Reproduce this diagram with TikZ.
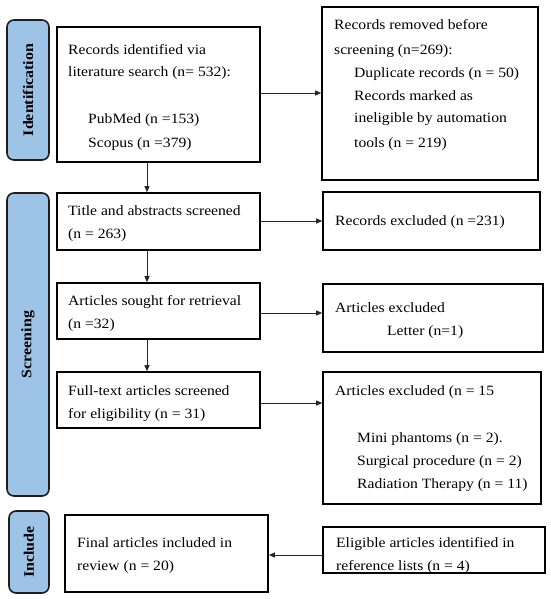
\documentclass[tikz,border=0pt]{standalone}
\usepackage{fontspec}
\setmainfont[FakeStretch=1.1]{Liberation Serif}
\usetikzlibrary{arrows.meta}
\definecolor{phasefill}{HTML}{9DC3E6}
\definecolor{phasedraw}{HTML}{1E1E1E}
\tikzset{
  box/.style={draw=black, line width=1.6pt, inner sep=0pt, fill=white},
  phase/.style={draw=phasedraw, fill=phasefill, line width=1.6pt, rounded corners=7pt,
    inner sep=0pt, rotate=90, font=\fontsize{14.5}{16}\selectfont\bfseries},
  txt/.style={anchor=base west, inner sep=0pt, font=\fontsize{14.2}{16}\selectfont},
  arr/.style={-{Triangle[length=6pt,width=5pt]}, line width=0.9pt, draw=black!85},
}
\begin{document}
\begin{tikzpicture}[x=1pt,y=-1pt]
\useasboundingbox (0,0) rectangle (550,599);
% phase labels
\node[phase, minimum width=140pt, minimum height=42pt] (P1) at (28,90) {Identification};
\node[phase, minimum width=303pt, minimum height=42pt] (P2) at (28,344.5) {Screening};
\node[phase, minimum width=82pt, minimum height=40pt] (P3) at (29,552) {Include};
% boxes
\node[box, minimum width=203pt, minimum height=135pt] (A) at (158.5,94.5) {};
\node[box, minimum width=216pt, minimum height=173pt] (R) at (430,93.5) {};
\node[box, minimum width=203pt, minimum height=57pt] (B) at (158.5,221.5) {};
\node[box, minimum width=203pt, minimum height=56pt] (C) at (158.5,311) {};
\node[box, minimum width=203pt, minimum height=56pt] (D) at (158.5,400) {};
\node[box, minimum width=217pt, minimum height=58pt] (E1) at (431.5,221) {};
\node[box, minimum width=220pt, minimum height=68pt] (E2) at (433,318) {};
\node[box, minimum width=218pt, minimum height=132pt] (E3) at (432,438) {};
\node[box, minimum width=203pt, minimum height=77pt] (F) at (166.5,553.5) {};
\node[box, minimum width=222pt, minimum height=46pt] (G) at (434,550) {};
% texts
\node[txt] (a1) at (68,55) {Records identified via};
\node[txt] (a2) at (68,77) {literature search (n= 532):};
\node[txt] (a3) at (88,124) {PubMed (n =153)};
\node[txt] (a4) at (88,147) {Scopus (n =379)};
\node[txt] (r1) at (334,30) {Records removed before};
\node[txt] (r2) at (334,55) {screening (n=269):};
\node[txt] (r3) at (354,78) {Duplicate records (n = 50)};
\node[txt] (r4) at (354,101) {Records marked as};
\node[txt] (r5) at (354,123) {ineligible by automation};
\node[txt] (r6) at (354,147) {tools (n = 219)};
\node[txt] (b1) at (68,215) {Title and abstracts screened};
\node[txt] (b2) at (68,238) {(n = 263)};
\node[txt] (c1) at (68,305) {Articles sought for retrieval};
\node[txt] (c2) at (68,328) {(n =32)};
\node[txt] (d1) at (68,395) {Full-text articles screened};
\node[txt] (d2) at (68,418) {for eligibility (n = 31)};
\node[txt] (e11) at (335,225) {Records excluded (n =231)};
\node[txt] (e21) at (335,312) {Articles excluded};
\node[txt] (e22) at (387,335) {Letter (n=1)};
\node[txt] (e31) at (335,395) {Articles excluded (n = 15};
\node[txt] (e32) at (357,442) {Mini phantoms (n = 2).};
\node[txt] (e33) at (357,465) {Surgical procedure (n = 2)};
\node[txt] (e34) at (357,488) {Radiation Therapy (n = 11)};
\node[txt] (f1) at (77,547) {Final articles included in};
\node[txt] (f2) at (77,570) {review (n = 20)};
\node[txt] (g1) at (336,547) {Eligible articles identified in};
\node[txt] (g2) at (336,570) {reference lists (n = 4)};
% connectors
\coordinate (vx) at (147,0);
\coordinate (yA) at (0,93);
\coordinate (yB) at (0,221);
\coordinate (yC) at (0,313);
\coordinate (yD) at (0,403);
\coordinate (yG) at (0,555);
\draw[arr] (A.east |- yA) -- (R.west |- yA);
\draw[arr] (B.east |- yB) -- (E1.west |- yB);
\draw[arr] (C.east |- yC) -- (E2.west |- yC);
\draw[arr] (D.east |- yD) -- (E3.west |- yD);
\draw[arr] (G.west |- yG) -- (F.east |- yG);
\draw[arr] (vx |- A.south) -- (vx |- B.north);
\draw[arr] (vx |- B.south) -- (vx |- C.north);
\draw[arr] (vx |- C.south) -- (vx |- D.north);
\end{tikzpicture}
\end{document}
